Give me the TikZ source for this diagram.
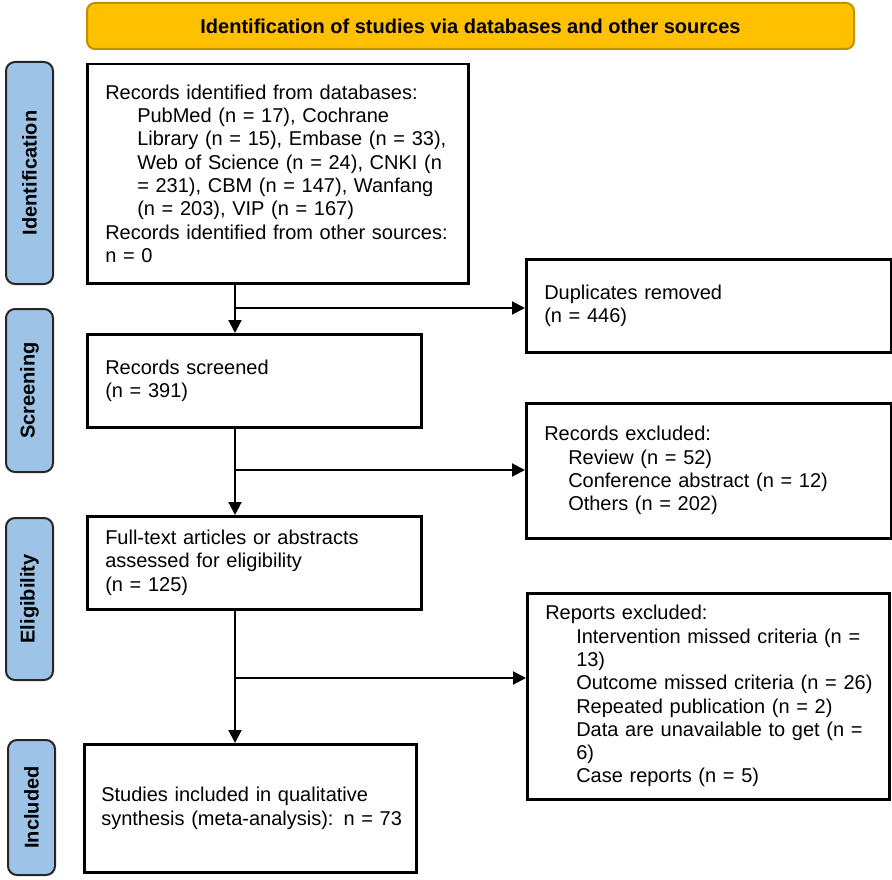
\documentclass[tikz,border=0pt]{standalone}
\usepackage{fontspec}
\setmainfont{Liberation Sans}
\usetikzlibrary{arrows.meta,calc}
\definecolor{hdrfill}{HTML}{FFC000}
\definecolor{hdrdraw}{HTML}{BF9000}
\definecolor{sidefill}{HTML}{9DC3E6}
\begin{document}
\begin{tikzpicture}[x=1pt,y=-1pt,
  flowbox/.style={draw=black, line width=2.5pt, rectangle, inner xsep=18pt, inner ysep=0pt,
    align=left, font=\fontsize{20}{23.3}\selectfont, anchor=north west},
  sidelabel/.style={draw=black!85, line width=2pt, fill=sidefill, rounded corners=9pt,
    rotate=90, minimum height=47pt, inner sep=0pt, font=\bfseries\fontsize{20}{24}\selectfont},
  header/.style={draw=hdrdraw, line width=2pt, fill=hdrfill, rounded corners=8pt,
    minimum width=767pt, minimum height=46pt, inner sep=0pt, font=\bfseries\fontsize{20}{24}\selectfont},
  conn/.style={draw=black, line width=2pt, -{Triangle[length=13pt,width=13pt]}}
]
\useasboundingbox (0,0) rectangle (892,880);

\node[header] (hdr) at (470.5,26) {Identification of studies via databases and other sources};

\node[sidelabel, minimum width=222pt] (sid) at (29.5,173) {Identification};
\node[sidelabel, minimum width=163pt] (ssc) at (29.5,390.5) {Screening};
\node[sidelabel, minimum width=162pt] (sel) at (29.5,599) {Eligibility};
\node[sidelabel, minimum width=135pt] (sin) at (31.5,807.5) {Included};

\node[flowbox, text width=345pt, minimum height=219pt] (b1) at (86,63) {%
Records identified from databases:\\
\hspace*{32pt}\mbox{PubMed (n = 17), Cochrane}\\
\hspace*{32pt}\mbox{Library (n = 15), Embase (n = 33),}\\
\hspace*{32pt}\mbox{Web of Science (n = 24), CNKI (n}\\
\hspace*{32pt}\mbox{= 231), CBM (n = 147), Wanfang}\\
\hspace*{32pt}\mbox{(n = 203), VIP (n = 167)}\\
\mbox{Records identified from other sources:}\\
n = 0};

\node[flowbox, text width=329pt, minimum height=93pt] (dup) at (525,258) {%
Duplicates removed\\
(n = 446)};

\node[flowbox, text width=298pt, minimum height=93pt] (rs) at (86,333) {%
Records screened\\
(n = 391)};

\node[flowbox, text width=329pt, minimum height=135pt] (rex) at (525,402) {%
Records excluded:\\
\hspace*{24pt}\mbox{Review (n = 52)}\\
\hspace*{24pt}\mbox{Conference abstract (n = 12)}\\
\hspace*{24pt}\mbox{Others (n = 202)}};

\node[flowbox, text width=298pt, minimum height=93pt] (ft) at (86,515) {%
\mbox{Full-text articles or abstracts}\\
assessed for eligibility\\
(n = 125)};

\node[flowbox, text width=326pt, minimum height=206pt] (repex) at (526,592) {%
Reports excluded:\\
\hspace*{31pt}\mbox{Intervention missed criteria (n =}\\
\hspace*{31pt}13)\\
\hspace*{31pt}\mbox{Outcome missed criteria (n = 26)}\\
\hspace*{31pt}\mbox{Repeated publication (n = 2)}\\
\hspace*{31pt}\mbox{Data are unavailable to get (n =}\\
\hspace*{31pt}6)\\
\hspace*{31pt}\mbox{Case reports (n = 5)}};

\node[flowbox, text width=298pt, minimum height=128pt, inner xsep=17pt] (inc) at (83,743) {%
\mbox{Studies included in qualitative}\\
\mbox{synthesis (meta-analysis): n = 73}};

\coordinate (col) at (235,0);
\coordinate (j1) at (235,308);
\coordinate (j2) at (235,470);
\coordinate (j3) at (235,678);

\draw[conn] (b1.south -| col) -- (rs.north -| col);
\draw[conn] (j1) -- (dup.west |- j1);
\draw[conn] (rs.south -| col) -- (ft.north -| col);
\draw[conn] (j2) -- (rex.west |- j2);
\draw[conn] (ft.south -| col) -- (inc.north -| col);
\draw[conn] (j3) -- (repex.west |- j3);
\end{tikzpicture}
\end{document}
